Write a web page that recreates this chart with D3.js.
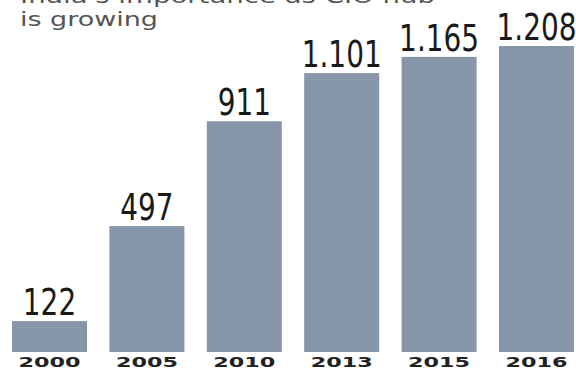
<!DOCTYPE html>
<html>
<head>
<meta charset="utf-8">
<script src="https://cdn.jsdelivr.net/npm/d3@7"></script>
<style>
  body { margin: 0; background: #fff; }
  svg { display: block; }
</style>
</head>
<body>
<div id="chart"></div>
<script>
// data
var years = ["2000", "2005", "2010", "2013", "2015", "2016"];
var counts = [122, 497, 911, 1101, 1165, 1208];
var titleLines = ["India's importance as CIO hub", "is growing"];

var svgWidth = 576, svgHeight = 371;
var svg = d3.select("#chart").append("svg")
    .attr("width", svgWidth)
    .attr("height", svgHeight);

var data = years.map(function(y, i) { return {name: y, count: counts[i]}; });

var x = d3.scaleBand()
    .domain(years)
    .range([12, 574])
    .paddingInner(0.23)
    .paddingOuter(0);

var y = d3.scaleLinear()
    .domain([0, 1208])
    .range([352, 46]);

// european style thousands: 1.101
var fmt = d3.formatLocale({decimal: ",", thousands: ".", grouping: [3], currency: ["", ""]}).format(",d");

// title, first line is cut by the top edge like in the source
// (source looks stretched sideways, so glyphs are widened)
var titleLen = [415, 138];
var titleY = [3, 26];
svg.selectAll("text.title")
    .data(titleLines)
    .enter().append("text")
    .attr("class", "title")
    .attr("x", 20)
    .attr("y", function(d, i) { return titleY[i]; })
    .attr("textLength", function(d, i) { return titleLen[i]; })
    .attr("lengthAdjust", "spacingAndGlyphs")
    .style("font-family", "'DejaVu Sans', sans-serif")
    .style("font-size", "20px")
    .style("fill", "#555")
    .text(function(d) { return d; });

svg.selectAll("rect.bar")
    .data(data)
    .enter().append("rect")
    .attr("class", "bar")
    .attr("x", function(d) { return x(d.name); })
    .attr("width", x.bandwidth())
    .attr("y", function(d) { return y(d.count); })
    .attr("height", function(d) { return y(0) - y(d.count); })
    .style("fill", "#8796a9");

svg.selectAll("text.value")
    .data(data)
    .enter().append("text")
    .attr("class", "value")
    .attr("transform", function(d) {
        return "translate(" + (x(d.name) + x.bandwidth() / 2) + "," + (y(d.count) - 6) + ") scale(0.84,1)";
    })
    .attr("text-anchor", "middle")
    .style("font-family", "'DejaVu Sans Condensed', 'DejaVu Sans', sans-serif")
    .style("font-size", "37px")
    .style("fill", "#1a1a1a")
    .text(function(d) { return fmt(d.count); });

// x axis labels, wide bold
var xAxis = d3.axisBottom(x).tickSize(0).tickPadding(0);
var xAxisG = svg.append("g")
    .attr("class", "x axis")
    .attr("transform", "translate(0,357)")
    .call(xAxis);
xAxisG.select(".domain").remove();
xAxisG.selectAll("text")
    .attr("dy", "0.71em")
    .attr("textLength", 62)
    .attr("lengthAdjust", "spacingAndGlyphs")
    .style("font-family", "'DejaVu Sans', Verdana, sans-serif")
    .style("font-weight", "bold")
    .style("font-size", "14px")
    .style("fill", "#222");
</script>
</body>
</html>
